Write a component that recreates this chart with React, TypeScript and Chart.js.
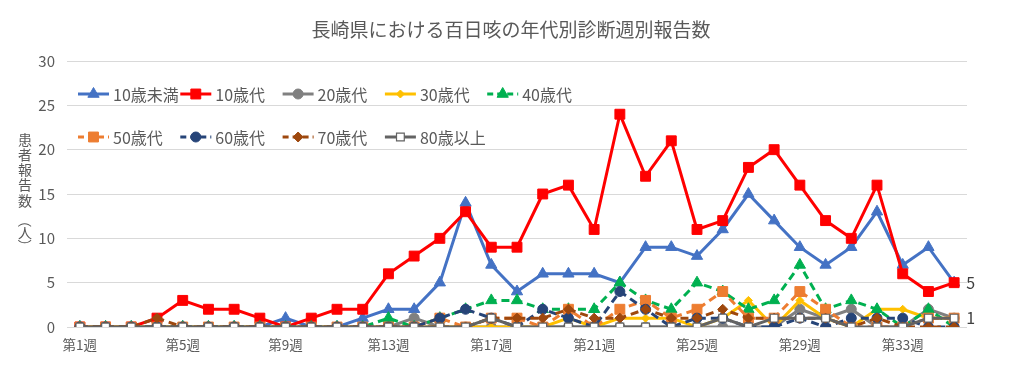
import React, { useEffect, useRef } from 'react';
import { Chart, registerables } from 'chart.js';
import { drawPoint } from 'chart.js/helpers';

Chart.register(...registerables);

const FONT = '"Noto Sans CJK JP", "Noto Sans", sans-serif';
const TEXT_COLOR = '#595959';

const chartTitle = '長崎県における百日咳の年代別診断週別報告数';
const yTitle = '患者報告数（人）';

const weeks = [
  '第1週', '第2週', '第3週', '第4週', '第5週', '第6週', '第7週', '第8週', '第9週', '第10週',
  '第11週', '第12週', '第13週', '第14週', '第15週', '第16週', '第17週', '第18週', '第19週', '第20週',
  '第21週', '第22週', '第23週', '第24週', '第25週', '第26週', '第27週', '第28週', '第29週', '第30週',
  '第31週', '第32週', '第33週', '第34週', '第35週',
];

const seriesNames = ['10歳未満', '10歳代', '20歳代', '30歳代', '40歳代', '50歳代', '60歳代', '70歳代', '80歳以上'];

const under10 = [0, 0, 0, 0, 0, 0, 0, 0, 1, 0, 0, 1, 2, 2, 5, 14, 7, 4, 6, 6, 6, 5, 9, 9, 8, 11, 15, 12, 9, 7, 9, 13, 7, 9, 5];
const age10s = [0, 0, 0, 1, 3, 2, 2, 1, 0, 1, 2, 2, 6, 8, 10, 13, 9, 9, 15, 16, 11, 24, 17, 21, 11, 12, 18, 20, 16, 12, 10, 16, 6, 4, 5];
const age20s = [0, 0, 0, 0, 0, 0, 0, 0, 0, 0, 0, 0, 0, 1, 0, 0, 0, 0, 0, 0, 0, 0, 0, 0, 0, 0, 0, 0, 2, 1, 2, 0, 0, 2, 1];
const age30s = [0, 0, 0, 0, 0, 0, 0, 0, 0, 0, 0, 0, 0, 0, 0, 0, 0, 0, 0, 1, 0, 1, 1, 1, 0, 1, 3, 0, 3, 1, 0, 2, 2, 1, 1];
const age40s = [0, 0, 0, 0, 0, 0, 0, 0, 0, 0, 0, 0, 1, 0, 1, 2, 3, 3, 2, 2, 2, 5, 3, 2, 5, 4, 2, 3, 7, 2, 3, 2, 0, 2, 0];
const age50s = [0, 0, 0, 0, 0, 0, 0, 0, 0, 0, 0, 0, 0, 0, 1, 0, 1, 1, 0, 2, 0, 2, 3, 1, 2, 4, 1, 1, 4, 2, 0, 0, 0, 1, 1];
const age60s = [0, 0, 0, 0, 0, 0, 0, 0, 0, 0, 0, 0, 0, 0, 1, 2, 1, 0, 2, 1, 0, 4, 2, 0, 1, 1, 0, 0, 1, 0, 1, 1, 1, 0, 0];
const age70s = [0, 0, 0, 1, 0, 0, 0, 0, 0, 0, 0, 0, 0, 0, 0, 0, 1, 1, 1, 2, 1, 1, 2, 1, 1, 2, 1, 1, 1, 1, 0, 1, 0, 0, 0];
const age80p = [0, 0, 0, 0, 0, 0, 0, 0, 0, 0, 0, 0, 0, 0, 0, 0, 1, 0, 0, 0, 0, 0, 0, 0, 0, 1, 0, 1, 1, 1, 0, 0, 0, 1, 1];

const yTicks = [0, 5, 10, 15, 20, 25, 30];

const seriesValues = [under10, age10s, age20s, age30s, age40s, age50s, age60s, age70s, age80p];

const styles = [
  { color: '#4472C4', point: 'triangle', radius: 6.5, dash: [] as number[], fill: '#4472C4' },
  { color: '#FF0000', point: 'rect', radius: 7, dash: [], fill: '#FF0000' },
  { color: '#808080', point: 'circle', radius: 5, dash: [], fill: '#808080' },
  { color: '#FFC000', point: 'rectRot', radius: 4, dash: [], fill: '#FFC000' },
  { color: '#00B050', point: 'triangle', radius: 6.5, dash: [8, 5], fill: '#00B050' },
  { color: '#ED7D31', point: 'rect', radius: 7, dash: [8, 5], fill: '#ED7D31' },
  { color: '#264478', point: 'circle', radius: 5, dash: [8, 5], fill: '#264478' },
  { color: '#9E480E', point: 'rectRot', radius: 5, dash: [8, 5], fill: '#9E480E' },
  { color: '#636363', point: 'rect', radius: 5.5, dash: [], fill: '#FFFFFF' },
];

// series whose last value gets a data label
const endLabelSeries = [0, 8];

const overlayPlugin = {
  id: 'overlay',
  afterDraw(chart: any) {
    const ctx = chart.ctx as CanvasRenderingContext2D;
    ctx.save();
    // Title
    ctx.fillStyle = TEXT_COLOR;
    ctx.font = `19px ${FONT}`;
    ctx.textAlign = 'center';
    ctx.textBaseline = 'middle';
    ctx.fillText(chartTitle, 511, 30);

    // Y axis title (vertical, upright characters)
    ctx.font = `14px ${FONT}`;
    const chars = Array.from(yTitle);
    let k = 0;
    chars.forEach((ch) => {
      if (ch === '（' || ch === '）') {
        ctx.save();
        const cy = ch === '（' ? 220.5 : 246;
        ctx.translate(25, cy);
        ctx.rotate(Math.PI / 2);
        ctx.fillText(ch, 0, 0);
        ctx.restore();
      } else if (ch === '人') {
        ctx.fillText(ch, 25, 233);
      } else {
        ctx.fillText(ch, 25, 139.5 + k * 15.2);
        k += 1;
      }
    });

    // Legend
    ctx.font = `16px ${FONT}`;
    ctx.textAlign = 'left';
    chart.data.datasets.forEach((ds: any, i: number) => {
      const st = styles[i];
      const col = i < 5 ? i : i - 5;
      const row = i < 5 ? 0 : 1;
      const x0 = 78 + col * 102.3;
      const ly = row === 0 ? 94 : 137;
      ctx.save();
      ctx.strokeStyle = st.color;
      ctx.lineWidth = 3;
      ctx.setLineDash(st.dash.length ? [6, 4] : []);
      ctx.beginPath();
      ctx.moveTo(x0, ly);
      ctx.lineTo(x0 + 31, ly);
      ctx.stroke();
      ctx.setLineDash([]);
      ctx.fillStyle = st.fill;
      ctx.strokeStyle = st.color;
      ctx.lineWidth = i === 8 ? 1.2 : 1;
      drawPoint(ctx, { pointStyle: st.point, radius: st.radius, rotation: 0, borderWidth: 1 } as any, x0 + 15.5, ly);
      ctx.restore();
      ctx.fillStyle = TEXT_COLOR;
      ctx.fillText(ds.label, x0 + 35, ly + 1);
    });

    // End data labels
    ctx.font = `16px ${FONT}`;
    ctx.fillStyle = '#404040';
    ctx.textAlign = 'left';
    endLabelSeries.forEach((si) => {
      const meta = chart.getDatasetMeta(si);
      const pts = meta.data;
      const last = pts[pts.length - 1];
      const vals = chart.data.datasets[si].data;
      ctx.fillText(String(vals[vals.length - 1]), last.x + 12, last.y);
    });
    ctx.restore();
  },
};

export default function App() {
  const canvasRef = useRef<HTMLCanvasElement | null>(null);

  useEffect(() => {
    if (!canvasRef.current) return;
    const datasets = seriesNames.map((name, i) => {
      const st = styles[i];
      return {
        label: name,
        data: seriesValues[i],
        borderColor: st.color,
        backgroundColor: st.fill,
        borderWidth: 3,
        borderDash: st.dash,
        pointStyle: st.point,
        pointRadius: st.radius,
        pointBackgroundColor: st.fill,
        pointBorderColor: st.color,
        pointBorderWidth: i === 8 ? 1.2 : 1,
        tension: 0,
        order: 8 - i,
      };
    });
    const chart = new Chart(canvasRef.current, {
      type: 'line',
      data: { labels: weeks, datasets },
      options: {
        animation: false,
        responsive: true,
        maintainAspectRatio: false,
        layout: { padding: { top: 61, right: 44, left: 0, bottom: 0 } },
        plugins: {
          legend: { display: false },
          title: { display: false },
          tooltip: { enabled: false },
        },
        scales: {
          x: {
            offset: true,
            grid: { display: false, drawTicks: false },
            border: { display: false },
            ticks: {
              autoSkip: false,
              maxRotation: 0,
              minRotation: 0,
              padding: 10,
              color: TEXT_COLOR,
              font: { size: 13.5, family: FONT },
              callback: (_v: any, i: number) => (i % 4 === 0 ? weeks[i] : ''),
            },
            afterFit: (s: any) => {
              s.height = 44;
            },
          },
          y: {
            min: yTicks[0],
            max: yTicks[yTicks.length - 1],
            afterBuildTicks: (s: any) => {
              s.ticks = yTicks.map((v) => ({ value: v }));
            },
            grid: { color: '#D9D9D9', lineWidth: 1, drawTicks: false },
            border: { display: false },
            ticks: {
              padding: 12,
              color: TEXT_COLOR,
              font: { size: 15, family: FONT },
            },
            afterFit: (s: any) => {
              s.width = 67;
            },
          },
        },
      } as any,
      plugins: [overlayPlugin],
    });
    return () => chart.destroy();
  }, []);

  return (
    <div style={{ position: 'fixed', left: 0, top: 0, width: 1011, height: 371, background: '#FFFFFF' }}>
      <canvas ref={canvasRef} />
    </div>
  );
}
